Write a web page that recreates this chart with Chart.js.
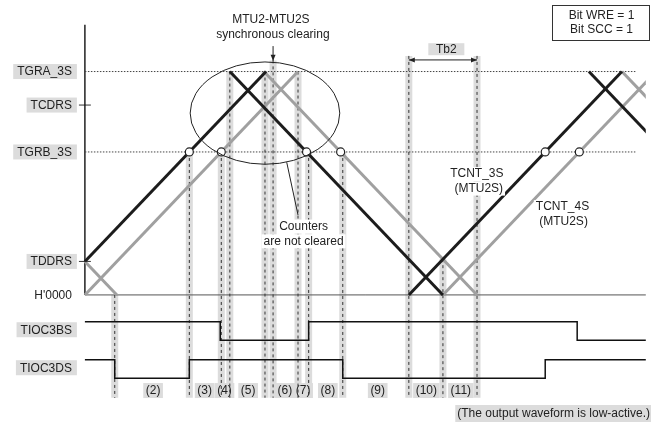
<!DOCTYPE html>
<html>
<head>
<meta charset="utf-8">
<script src="https://cdn.jsdelivr.net/npm/chart.js@4/dist/chart.umd.min.js"></script>
<style>
html, body { margin: 0; padding: 0; background: #fff; overflow: hidden; }
#wrap { width: 651px; height: 423px; }
</style>
</head>
<body>
<div id="wrap"><canvas id="timing" width="651" height="423"></canvas></div>
<script>
const FONT = '12px "Liberation Sans", Arial, sans-serif';
const INK = '#222';
const SHADE = '#dcdcdc';
const BLACK_LINE = '#1c1c1c';
const GRAY_LINE = '#a0a0a0';

// register levels (TGRA_3S taken as 100)
const levelNames = ['TGRA_3S', 'TCDRS', 'TGRB_3S', 'TDDRS', "H'0000"];
const levelValues = [100, 85, 64, 15, 0];

// counter ramps as [time, count] pairs
const tcnt3s = [
  [[0, 15], [85, 100]],
  [[68, 100], [168, 0]],
  [[152, 0], [252, 100]],
  [[236.5, 100], [336.5, 0]]
];
const tcnt4s = [
  [[0, 15], [15, 0]],
  [[0, 0], [100, 100]],
  [[84, 100], [184, 0]],
  [[168, 0], [268, 100]],
  [[252, 100], [352, 0]]
];
// compare matches on TGRB_3S
const matchTimes = [49, 64, 104, 120, 216, 232];

// timing markers and the count where each one starts
const markerTimes = [14, 49, 64, 68, 84.5, 88.3, 100, 105, 121, 152, 168, 184];
const markerTops = [0, 64, 64, 100, 100, 105, 100, 64, 64, 107, 16, 107];

// output pins, state 1 = high
const signalNames = ['TIOC3BS', 'TIOC3DS'];
const tioc3bsEdges = [0, 63.5, 105, 231];
const tioc3bsStates = [1, 0, 1, 0];
const tioc3dsEdges = [0, 14, 49, 121, 216];
const tioc3dsStates = [1, 0, 1, 0, 1];

const periodNames = ['(2)', '(3)', '(4)', '(5)', '(6)', '(7)', '(8)', '(9)', '(10)', '(11)'];
const periodCenters = [32, 56.2, 65.5, 76.6, 93.8, 102.4, 114, 137.4, 160.2, 176.4];

// layout of the drawing in chart units
const T_END = 280;
const GUIDE_END = 258.3;
const AXIS_TOP = 121;
const MARK_BOTTOM = -46;
const PERIOD_Y = -42.8;
const SIG_LEVELS = [[-12, -20.3], [-29, -37.3]];

function seg(pts, color, width, order, extra) {
  return Object.assign({
    data: pts.map(p => ({x: p[0], y: p[1]})),
    borderColor: color,
    borderWidth: width,
    pointRadius: 0,
    fill: false,
    tension: 0,
    order: order
  }, extra || {});
}

function wave(edges, states, levels) {
  const pts = edges.map((t, i) => [t, states[i] ? levels[0] : levels[1]]);
  pts.push([T_END, pts[pts.length - 1][1]]);
  return seg(pts, '#111', 1.5, 2, {stepped: 'before'});
}

const datasets = [];

// shaded bands behind the markers (first one carries the period labels)
markerTimes.forEach((t, i) => {
  datasets.push(seg([[t, markerTops[i]], [t, MARK_BOTTOM]], SHADE, 7, 10,
    {borderCapStyle: 'butt', periodLayer: i === 0}));
});
// dotted compare levels, zero line, axis and ticks
[100, 64].forEach(v => datasets.push(seg([[0, v], [GUIDE_END, v]], '#444', 1, 8, {borderDash: [1.5, 1.5]})));
datasets.push(seg([[0, 0], [T_END, 0]], '#555', 1, 8));
datasets.push(seg([[0, AXIS_TOP], [0, 0]], '#111', 1.4, 8));
[85, 15].forEach(v => datasets.push(seg([[-2.8, v], [2.8, v]], '#333', 1, 8)));
// dashed markers
markerTimes.forEach((t, i) => {
  datasets.push(seg([[t, markerTops[i]], [t, MARK_BOTTOM]], '#333', 1, 6, {borderDash: [3, 3]}));
});
// counters
tcnt4s.forEach(s => datasets.push(seg(s, GRAY_LINE, 3, 4)));
tcnt3s.forEach(s => datasets.push(seg(s, BLACK_LINE, 3, 3)));
// output waveforms
datasets.push(wave(tioc3bsEdges, tioc3bsStates, SIG_LEVELS[0]));
datasets.push(wave(tioc3dsEdges, tioc3dsStates, SIG_LEVELS[1]));
// compare match circles
datasets.push({
  data: matchTimes.map(t => ({x: t, y: levelValues[2]})),
  showLine: false,
  pointRadius: 4,
  pointBackgroundColor: '#fff',
  pointBorderColor: '#222',
  pointBorderWidth: 1.2,
  order: 1
});

function textBox(ctx, s, x, y, bg, align) {
  const w = ctx.measureText(s).width;
  const left = align === 'right' ? x - w : x - w / 2;
  if (bg) {
    ctx.fillStyle = bg;
    ctx.fillRect(left - 2, y - 7, w + 4, 14);
  }
  ctx.fillStyle = INK;
  ctx.textAlign = 'left';
  ctx.fillText(s, left, y);
}

function arrowHead(ctx, x, y, dx, dy) {
  const len = 6, half = 2.5;
  ctx.beginPath();
  ctx.moveTo(x, y);
  ctx.lineTo(x - dx * len - dy * half, y - dy * len + dx * half);
  ctx.lineTo(x - dx * len + dy * half, y - dy * len - dx * half);
  ctx.closePath();
  ctx.fill();
}

const overlay = {
  id: 'overlay',
  afterDatasetDraw(chart, args) {
    if (!chart.data.datasets[args.index].periodLayer) return;
    const ctx = chart.ctx, xs = chart.scales.x, ys = chart.scales.y;
    ctx.save();
    ctx.font = FONT;
    ctx.textBaseline = 'middle';
    periodNames.forEach((s, i) => {
      const x = xs.getPixelForValue(periodCenters[i]);
      const y = ys.getPixelForValue(PERIOD_Y);
      const w = ctx.measureText(s).width;
      ctx.fillStyle = SHADE;
      ctx.fillRect(x - w / 2 - 2.5, y - 7.5, w + 5, 15);
      ctx.fillStyle = INK;
      ctx.textAlign = 'center';
      ctx.fillText(s, x, y + 0.5);
    });
    const note = '(The output waveform is low-active.)';
    const nw = ctx.measureText(note).width;
    ctx.fillStyle = SHADE;
    ctx.fillRect(chart.width - nw - 3, 405, nw + 3, 17);
    ctx.fillStyle = INK;
    ctx.textAlign = 'right';
    ctx.fillText(note, chart.width - 1, 413.5);
    ctx.restore();
  },
  afterDatasetsDraw(chart) {
    const ctx = chart.ctx, xs = chart.scales.x, ys = chart.scales.y;
    const px = t => xs.getPixelForValue(t);
    const py = v => ys.getPixelForValue(v);
    ctx.save();
    ctx.font = FONT;
    ctx.textBaseline = 'middle';

    // axis labels on the left
    const xr = px(0) - 13;
    levelNames.forEach((s, i) => {
      const y = py(levelValues[i]);
      const w = ctx.measureText(s).width;
      if (i < levelNames.length - 1) {
        ctx.fillStyle = SHADE;
        ctx.fillRect(xr - w - 4, y - 7.5, w + 9, 15);
      }
      ctx.fillStyle = INK;
      ctx.textAlign = 'right';
      ctx.fillText(s, xr, y + 0.5);
    });
    signalNames.forEach((s, i) => {
      const y = py(SIG_LEVELS[i][0]) + 8;
      const w = ctx.measureText(s).width;
      ctx.fillStyle = SHADE;
      ctx.fillRect(xr - w - 4, y - 7.5, w + 9, 15);
      ctx.fillStyle = INK;
      ctx.textAlign = 'right';
      ctx.fillText(s, xr, y + 0.5);
    });

    // ellipse round the clearing point
    ctx.strokeStyle = '#222';
    ctx.lineWidth = 1;
    ctx.beginPath();
    ctx.ellipse(px(84.5), py(81.4), px(84.5 + 35.1) - px(84.5), py(81.4) - py(81.4 + 22.9), 0, 0, Math.PI * 2);
    ctx.stroke();

    // synchronous clearing note and arrow
    textBox(ctx, 'MTU2-MTU2S', px(87.3), py(123.1), null);
    textBox(ctx, 'synchronous clearing', px(88.2), py(116.6), null);
    ctx.fillStyle = '#222';
    ctx.beginPath();
    ctx.moveTo(px(88.3), py(111.4));
    ctx.lineTo(px(88.3), py(104.8));
    ctx.stroke();
    arrowHead(ctx, px(88.3), py(104.8), 0, 1);

    // counters are not cleared
    ctx.beginPath();
    ctx.moveTo(px(94.7), py(59.4));
    ctx.lineTo(px(100), py(35.8));
    ctx.stroke();
    textBox(ctx, 'Counters', px(102.6), py(30.6), '#fff');
    textBox(ctx, 'are not cleared', px(102.6), py(24.0), '#fff');

    // Tb2 span
    const yT = py(105.2);
    ctx.beginPath();
    ctx.moveTo(px(152), yT);
    ctx.lineTo(px(184), yT);
    ctx.stroke();
    ctx.fillStyle = '#222';
    arrowHead(ctx, px(152), yT, -1, 0);
    arrowHead(ctx, px(184), yT, 1, 0);
    ctx.fillStyle = SHADE;
    ctx.fillRect(px(169.6) - 18, py(110) - 6, 36, 12);
    ctx.fillStyle = INK;
    ctx.textAlign = 'center';
    ctx.fillText('Tb2', px(169.6), py(110) + 0.5);

    // counter names
    textBox(ctx, 'TCNT_3S', px(183.9), py(54.1), '#fff');
    textBox(ctx, '(MTU2S)', px(184.8), py(47.6), '#fff');
    textBox(ctx, 'TCNT_4S', px(224.1), py(39.3), '#fff');
    textBox(ctx, '(MTU2S)', px(224.6), py(32.75), '#fff');

    // register settings box
    ctx.fillStyle = '#fff';
    ctx.fillRect(552.5, 5.5, 97, 35);
    ctx.strokeStyle = '#333';
    ctx.strokeRect(552.5, 5.5, 97, 35);
    textBox(ctx, 'Bit WRE = 1', 601.5, 15.5, null);
    textBox(ctx, 'Bit SCC = 1', 601.5, 29.5, null);
    ctx.restore();
  }
};

new Chart(document.getElementById('timing'), {
  type: 'line',
  data: {datasets: datasets},
  options: {
    responsive: false,
    devicePixelRatio: 1,
    animation: false,
    events: [],
    layout: {padding: 0},
    scales: {
      x: {type: 'linear', display: false, min: -37.4, max: 263.2},
      y: {type: 'linear', display: false, min: -55, max: 129.7}
    },
    plugins: {legend: {display: false}, tooltip: {enabled: false}}
  },
  plugins: [overlay]
});
</script>
</body>
</html>
